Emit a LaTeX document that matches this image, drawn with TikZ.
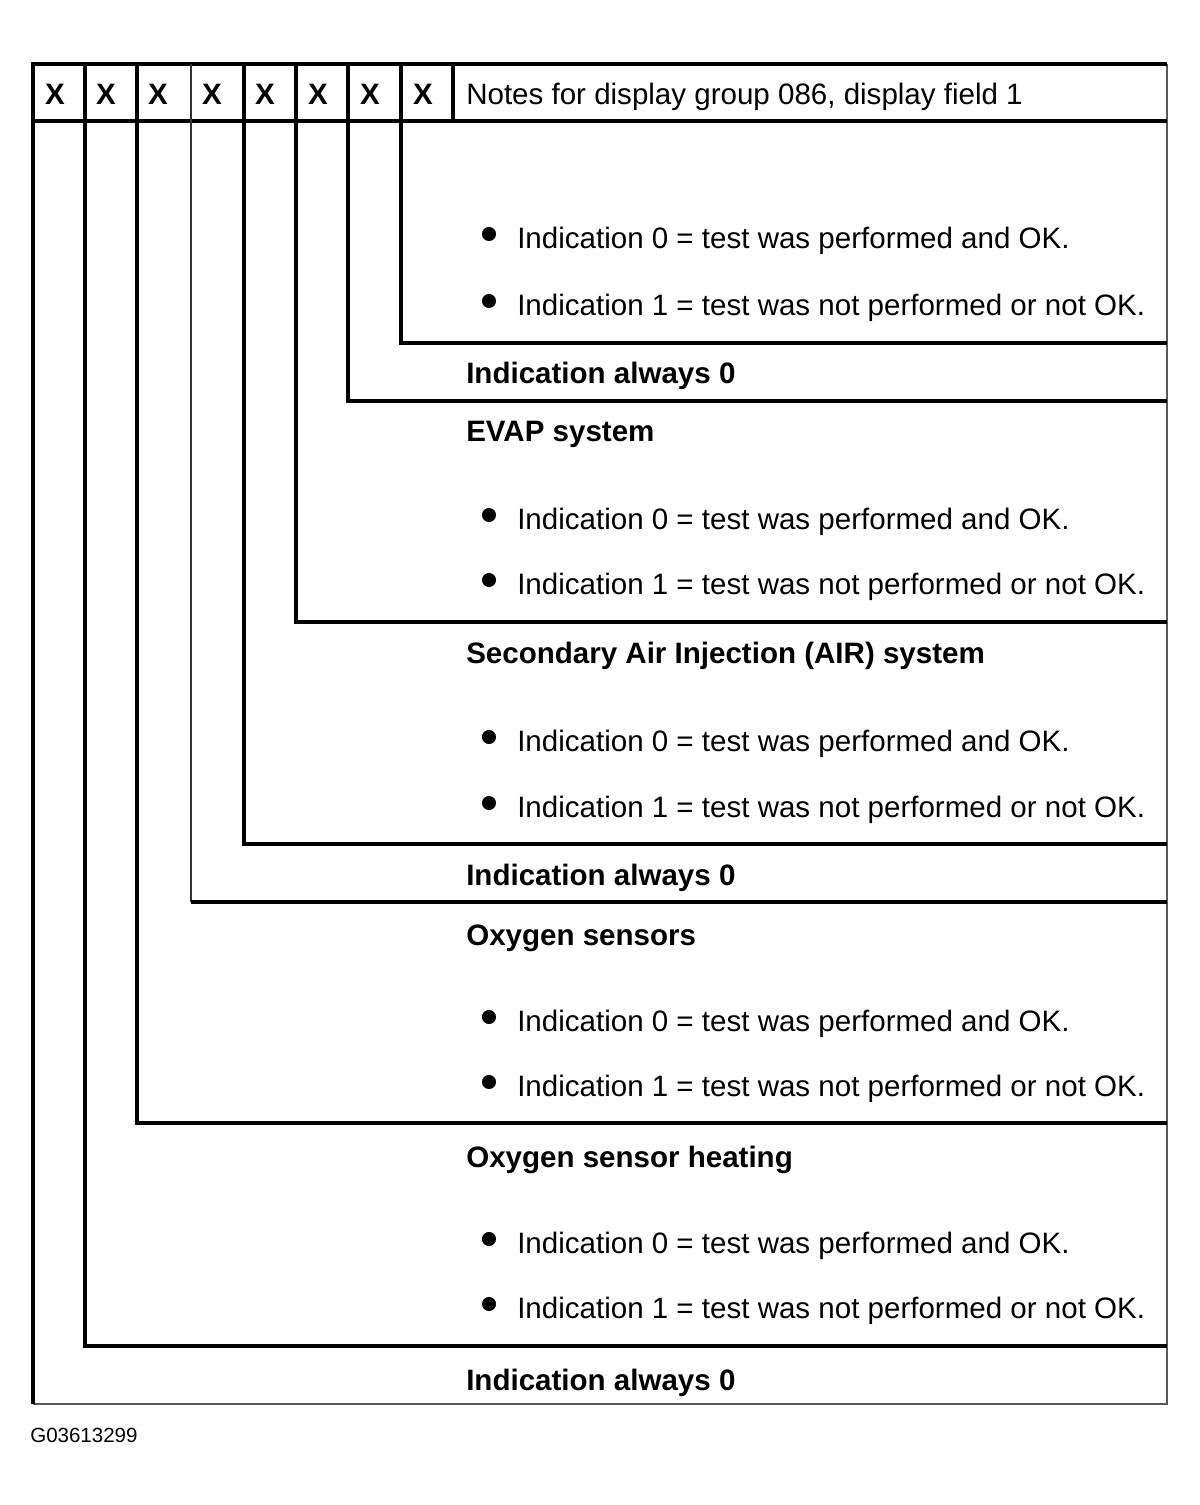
\documentclass[tikz,border=0pt]{standalone}
\usepackage{fontspec}
\setmainfont{Liberation Sans}
\usetikzlibrary{positioning}

\begin{document}
\begin{tikzpicture}[x=0.025cm,y=-0.025cm,
	thickline/.style={line width=2.2pt,black},
	thinline/.style={line width=1.1pt,black!65},
	txt/.style={anchor=base west,inner sep=0pt,font=\fontsize{21}{25}\selectfont},
	head/.style={anchor=base west,inner sep=0pt,font=\fontsize{21}{25}\selectfont\bfseries}]
	\useasboundingbox (0,0) rectangle (1200,1505);
	% frame
	\draw[thinline] (1167,64) -- (1167,1404) -- (33,1404);
	\draw[thickline] (33,1404) -- (33,64) -- (1167,64);
	\draw[thickline] (33,121) -- (1167,121);
	\draw[thickline] (453,64) -- (453,121);
	% steps
	\foreach \x/\y in {85/1346,137/1123,244/844,296/622,348/401,401/343}
		\draw[thickline] (\x,64) -- (\x,\y) -- (1167,\y);
	\draw[line width=1.5pt,black!80] (191,64) -- (191,902);
	\draw[thickline] (191,902) -- (1167,902);
	% header
	\foreach \x [count=\i] in {55,106,158,212,265,318,370,423}
		\node[head,anchor=base] (x\i) at (\x,104) {X};
	\node[txt] (notes) at (466,104) {Notes for display group 086, display field 1};
	% titles
	\node[head] (always1) at (466,383) {Indication always 0};
	\node[head] (evap) at (466,441) {EVAP system};
	\node[head] (air) at (466,663) {Secondary Air Injection (AIR) system};
	\node[head] (always2) at (466,885) {Indication always 0};
	\node[head] (oxy) at (466,945) {Oxygen sensors};
	\node[head] (heat) at (466,1167) {Oxygen sensor heating};
	\node[head] (always3) at (466,1390) {Indication always 0};
	% bullets
	\foreach \n/\a/\b in {a/238/305,b/519/584,c/741/807,d/1021/1086,e/1243/1308}{
		\fill (489,\a-4) circle (5pt);
		\fill (489,\b-4) circle (5pt);
		\node[txt] (\n0) at (517,\a+10) {Indication 0 = test was performed and OK.};
		\node[txt] (\n1) at (517,\b+10) {Indication 1 = test was not performed or not OK.};
	}
	\node[anchor=base west,inner sep=0pt,font=\fontsize{14.6}{17}\selectfont] (code) at (30,1442) {G03613299};
\end{tikzpicture}
\end{document}
